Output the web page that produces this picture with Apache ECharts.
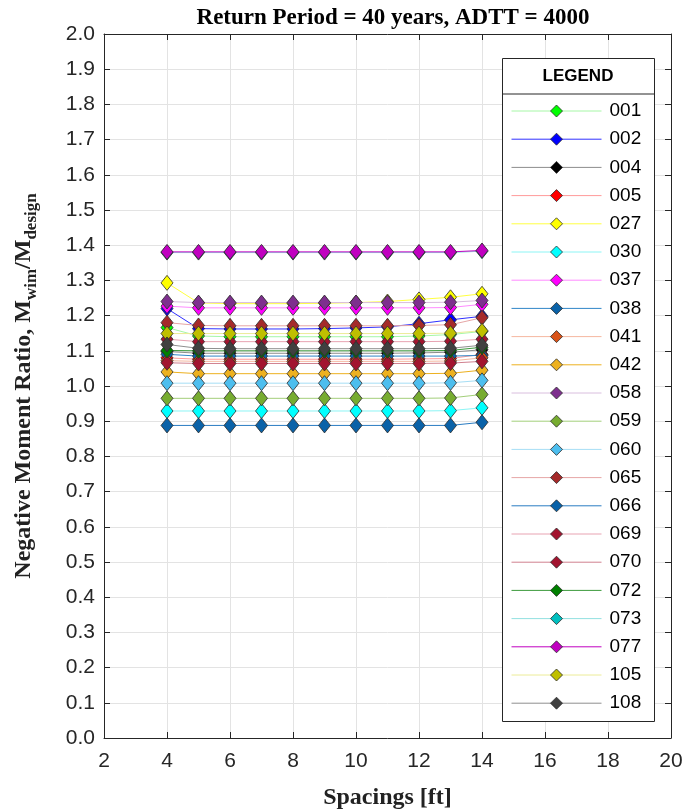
<!DOCTYPE html>
<html>
<head>
<meta charset="utf-8">
<title>Negative Moment Ratio</title>
<script src="https://cdn.jsdelivr.net/npm/echarts@6/dist/echarts.min.js"></script>
<style>
  html, body { margin: 0; padding: 0; background: #fff; }
  #chart { width: 692px; height: 812px; }
</style>
</head>
<body>
<div id="chart"></div>
<script>
// spacing values along the x axis [ft]
const spacings = [4, 5, 6, 7, 8, 9, 10, 11, 12, 13, 14];

// moment ratio for each site
const s001 = [1.166, 1.142, 1.140, 1.140, 1.140, 1.140, 1.140, 1.140, 1.142, 1.146, 1.155];
const s002 = [1.220, 1.163, 1.162, 1.162, 1.162, 1.163, 1.165, 1.168, 1.177, 1.188, 1.198];
const s004 = [1.098, 1.093, 1.093, 1.093, 1.093, 1.093, 1.093, 1.093, 1.094, 1.096, 1.103];
const s005 = [1.080, 1.076, 1.076, 1.076, 1.076, 1.076, 1.076, 1.076, 1.077, 1.078, 1.090];
const s027 = [1.293, 1.236, 1.234, 1.234, 1.234, 1.235, 1.237, 1.240, 1.246, 1.252, 1.262];
const s030 = [0.929, 0.929, 0.929, 0.929, 0.929, 0.929, 0.929, 0.929, 0.929, 0.930, 0.938];
const s037 = [1.227, 1.222, 1.222, 1.222, 1.222, 1.222, 1.222, 1.222, 1.222, 1.223, 1.232];
const s038 = [1.090, 1.085, 1.085, 1.085, 1.085, 1.085, 1.085, 1.085, 1.085, 1.085, 1.087];
const s041 = [1.072, 1.070, 1.070, 1.070, 1.070, 1.070, 1.070, 1.070, 1.070, 1.071, 1.080];
const s042 = [1.040, 1.035, 1.035, 1.035, 1.035, 1.035, 1.035, 1.035, 1.035, 1.036, 1.045];
const s058 = [1.240, 1.237, 1.237, 1.237, 1.237, 1.237, 1.237, 1.237, 1.237, 1.238, 1.243];
const s059 = [0.965, 0.965, 0.965, 0.965, 0.965, 0.965, 0.965, 0.965, 0.965, 0.966, 0.976];
const s060 = [1.008, 1.008, 1.008, 1.008, 1.008, 1.008, 1.008, 1.008, 1.008, 1.009, 1.016];
const s065 = [1.180, 1.172, 1.171, 1.171, 1.171, 1.171, 1.171, 1.171, 1.172, 1.174, 1.194];
const s066 = [0.888, 0.888, 0.888, 0.888, 0.888, 0.888, 0.888, 0.888, 0.888, 0.888, 0.897];
const s069 = [1.133, 1.126, 1.126, 1.126, 1.126, 1.126, 1.126, 1.126, 1.126, 1.127, 1.133];
const s070 = [1.066, 1.064, 1.064, 1.064, 1.064, 1.064, 1.064, 1.064, 1.064, 1.065, 1.070];
const s072 = [1.101, 1.100, 1.100, 1.100, 1.100, 1.100, 1.100, 1.100, 1.100, 1.101, 1.110];
const s073 = [1.379, 1.379, 1.379, 1.379, 1.379, 1.379, 1.379, 1.379, 1.379, 1.379, 1.383];
const s077 = [1.381, 1.381, 1.381, 1.381, 1.381, 1.381, 1.381, 1.381, 1.381, 1.381, 1.385];
const s105 = [1.149, 1.149, 1.149, 1.149, 1.149, 1.149, 1.149, 1.149, 1.149, 1.150, 1.157];
const s108 = [1.118, 1.107, 1.106, 1.106, 1.106, 1.106, 1.106, 1.106, 1.106, 1.107, 1.116];

const siteNames = ['001', '002', '004', '005', '027', '030', '037', '038', '041', '042', '058',
    '059', '060', '065', '066', '069', '070', '072', '073', '077', '105', '108'];
const siteValues = [s001, s002, s004, s005, s027, s030, s037, s038, s041, s042, s058,
    s059, s060, s065, s066, s069, s070, s072, s073, s077, s105, s108];

// marker fill / line colour per site
const markerColors = ['#00ff00', '#0000ff', '#000000', '#ff0000', '#ffff00', '#00ffff', '#ff00ff',
    '#0a62a8', '#d95319', '#edb120', '#7e2f8e', '#77ac30', '#4dbeee', '#a52a2a', '#0a62a8',
    '#a2142f', '#a2142f', '#008000', '#00bfbf', '#c000c0', '#bfbf00', '#404040'];
const lineColors = ['#a6f7a6', '#3030ff', '#8c8c8c', '#ff9a9a', '#ffff40', '#8cf5f5', '#ff8cff',
    '#2f86c8', '#f5b8a0', '#edb120', '#d9bede', '#a3cf7a', '#a6def5', '#e6a6a6', '#2a7cc2',
    '#e8a3b2', '#d0808f', '#3c9a3c', '#92e0e0', '#c000c0', '#ecec98', '#8f8f8f'];

const chartDom = document.getElementById('chart');
const myChart = echarts.init(chartDom, null, { renderer: 'canvas' });

const serifFont = '"Liberation Serif", "Times New Roman", serif';
const sansFont = '"Liberation Sans", Arial, sans-serif';

const series = siteNames.map((name, i) => ({
    name: name,
    type: 'line',
    data: spacings.map((x, j) => [x, siteValues[i][j]]),
    symbol: 'diamond',
    symbolSize: [12, 15],
    showSymbol: true,
    lineStyle: { color: lineColors[i], width: 1 },
    itemStyle: { color: markerColors[i], borderColor: '#2b2b2b', borderWidth: 0.8 },
    emphasis: { disabled: true },
}));

const option = {
    animation: false,
    backgroundColor: '#ffffff',
    title: {
        text: 'Return Period = 40 years, ADTT = 4000',
        left: 388,
        top: 2,
        textAlign: 'center',
        textStyle: { fontFamily: serifFont, fontWeight: 'bold', fontSize: 23, color: '#000' },
    },
    grid: { left: 104, right: 21, top: 34, bottom: 74, outerBoundsMode: 'none' },
    legend: {
        orient: 'vertical',
        left: 511,
        top: 101,
        padding: 0,
        z: 4,
        itemWidth: 90,
        itemHeight: 15,
        itemGap: 8.2,
        lineStyle: { width: 1 },
        itemStyle: { borderWidth: 0.8 },
        textStyle: { fontFamily: sansFont, fontSize: 19, color: '#000', lineHeight: 20, padding: [0, 0, 0, 3] },
        data: siteNames,
    },
    xAxis: [
        {
            type: 'value',
            min: 2,
            max: 20,
            interval: 2,
            name: 'Spacings [ft]',
            nameLocation: 'middle',
            nameGap: 48,
            nameTextStyle: { fontFamily: serifFont, fontWeight: 'bold', fontSize: 24, color: '#222' },
            axisLine: { show: true, lineStyle: { color: '#262626', width: 1 } },
            axisTick: { show: true, inside: true, length: 6, lineStyle: { color: '#262626' } },
            axisLabel: { margin: 13, fontFamily: sansFont, fontSize: 21, color: '#262626' },
            splitLine: { show: true, lineStyle: { color: '#e3e3e3', width: 1 } },
        },
        {
            type: 'value',
            position: 'top',
            min: 2,
            max: 20,
            interval: 2,
            axisLine: { show: true, onZero: false, lineStyle: { color: '#262626', width: 1 } },
            axisTick: { show: true, inside: true, length: 6, lineStyle: { color: '#262626' } },
            axisLabel: { show: false },
            splitLine: { show: false },
        },
    ],
    yAxis: [
        {
            type: 'value',
            min: 0,
            max: 2,
            interval: 0.1,
            name: 'Negative Moment Ratio, M{sub|wim}/M{sub|design}',
            nameLocation: 'middle',
            nameGap: 64,
            nameTextStyle: {
                fontFamily: serifFont, fontWeight: 'bold', fontSize: 24, color: '#222',
                rich: {
                    sub: {
                        fontFamily: serifFont, fontWeight: 'bold', fontSize: 17, color: '#222',
                        verticalAlign: 'bottom', lineHeight: 32, padding: [13, 0, 0, 0],
                    },
                },
            },
            axisLine: { show: true, lineStyle: { color: '#262626', width: 1 } },
            axisTick: { show: true, inside: true, length: 6, lineStyle: { color: '#262626' } },
            axisLabel: {
                margin: 9,
                fontFamily: sansFont,
                fontSize: 21,
                color: '#262626',
                formatter: (v) => v.toFixed(1),
            },
            splitLine: { show: true, lineStyle: { color: '#e3e3e3', width: 1 } },
        },
        {
            type: 'value',
            position: 'right',
            min: 0,
            max: 2,
            interval: 0.1,
            axisLine: { show: true, onZero: false, lineStyle: { color: '#262626', width: 1 } },
            axisTick: { show: true, inside: true, length: 6, lineStyle: { color: '#262626' } },
            axisLabel: { show: false },
            splitLine: { show: false },
        },
    ],
    // legend frame with its header, below the legend entries
    graphic: [
        {
            type: 'rect',
            left: 502,
            top: 58,
            z: 1,
            shape: { width: 152, height: 663 },
            style: { fill: '#ffffff', stroke: '#262626', lineWidth: 1 },
        },
        {
            type: 'line',
            z: 2,
            shape: { x1: 502, y1: 94, x2: 654, y2: 94 },
            style: { stroke: '#262626', lineWidth: 1 },
        },
        {
            type: 'text',
            x: 578,
            y: 76,
            z: 2,
            style: {
                text: 'LEGEND',
                textAlign: 'center',
                textVerticalAlign: 'middle',
                font: 'bold 17px "Liberation Sans", Arial, sans-serif',
                fill: '#000',
            },
        },
    ],
    series: series,
};

myChart.setOption(option);

window.addEventListener('resize', () => {
    myChart.resize();
});
</script>
</body>
</html>
